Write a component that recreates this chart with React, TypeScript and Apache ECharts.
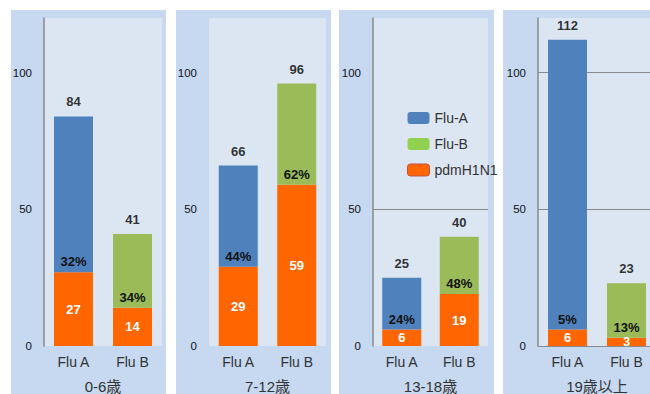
import React, { useEffect, useRef } from "react";
import * as echarts from "echarts";

const ageGroups = ["0-6歳", "7-12歳", "13-18歳", "19歳以上"];
const categories = ["Flu A", "Flu B"];
const fluATotal = [84, 66, 25, 112];
const fluBTotal = [41, 96, 40, 23];
const fluAPdm = [27, 29, 6, 6];
const fluBPdm = [14, 59, 19, 3];
const fluAPct = ["32%", "44%", "24%", "5%"];
const fluBPct = ["34%", "62%", "48%", "13%"];
const yMax = 120;
const yInterval = 50;

const FONT = "'Liberation Sans', Arial, 'Noto Sans CJK JP', sans-serif";
const gridLefts = [44, 209, 373, 538];
const gridWidths = [118, 117, 115, 118];
const panelLefts = [11, 176, 339, 503];
const panelWidth = 155;
const showAxisLine = [true, false, true, true];
const splitColors = [
  ["transparent"],
  ["transparent"],
  ["transparent", "#8a8a8a", "transparent", "transparent"],
  ["#8a8a8a", "#8a8a8a", "#8a8a8a", "transparent"],
];

export default function App() {
  const ref = useRef<HTMLDivElement>(null);
  useEffect(() => {
    document.body.style.margin = "0";
    const chart = echarts.init(ref.current!, null, { renderer: "svg" });
    const grid: any[] = [];
    const xAxis: any[] = [];
    const yAxis: any[] = [];
    const series: any[] = [];
    ageGroups.forEach((g, i) => {
      grid.push({
        left: gridLefts[i],
        width: gridWidths[i],
        top: 18,
        height: 328,
        show: true,
        backgroundColor: "#dce6f2",
        borderWidth: 0,
        outerBoundsMode: "none",
        containLabel: false,
      });
      xAxis.push({
        type: "category",
        gridIndex: i,
        data: categories,
        axisLine: { show: false },
        axisTick: { show: false },
        axisLabel: { color: "#333", fontSize: 14, fontFamily: FONT, margin: 9 },
        name: g,
        nameLocation: "middle",
        nameGap: 33,
        nameTextStyle: { color: "#333", fontSize: 15, fontFamily: FONT },
      });
      yAxis.push({
        type: "value",
        gridIndex: i,
        min: 0,
        max: yMax,
        interval: yInterval,
        axisLine: { show: showAxisLine[i], lineStyle: { color: "#8a8a8a", width: 1.5 } },
        axisTick: { show: false },
        axisLabel: {
          color: "#111",
          fontSize: 11.5,
          fontFamily: FONT,
          margin: 12,
          showMaxLabel: false,
        },
        splitLine: { show: true, lineStyle: { color: splitColors[i], width: 1 } },
      });
      series.push({
        name: "pdmH1N1",
        type: "bar",
        stack: "s" + i,
        xAxisIndex: i,
        yAxisIndex: i,
        barWidth: 39,
        data: [fluAPdm[i], fluBPdm[i]],
        itemStyle: { color: "#ff6600" },
        label: {
          show: true,
          position: "inside",
          color: "#fff",
          fontWeight: "bold",
          fontSize: 13,
          fontFamily: FONT,
        },
      });
      series.push({
        name: "Flu-A",
        type: "bar",
        stack: "s" + i,
        xAxisIndex: i,
        yAxisIndex: i,
        barWidth: 39,
        data: [fluATotal[i] - fluAPdm[i], "-"],
        itemStyle: { color: "#4f81bd" },
        label: {
          show: true,
          position: "insideBottom",
          distance: 4,
          formatter: () => fluAPct[i],
          color: "#111",
          fontWeight: "bold",
          fontSize: 13,
          fontFamily: FONT,
        },
      });
      series.push({
        name: "Flu-B",
        type: "bar",
        stack: "s" + i,
        xAxisIndex: i,
        yAxisIndex: i,
        barWidth: 39,
        data: ["-", fluBTotal[i] - fluBPdm[i]],
        itemStyle: { color: "#9bbb59" },
        label: {
          show: true,
          position: "insideBottom",
          distance: 4,
          formatter: () => fluBPct[i],
          color: "#111",
          fontWeight: "bold",
          fontSize: 13,
          fontFamily: FONT,
        },
      });
      series.push({
        name: "total",
        type: "scatter",
        xAxisIndex: i,
        yAxisIndex: i,
        symbolSize: 0,
        data: [
          [0, fluATotal[i]],
          [1, fluBTotal[i]],
        ],
        label: {
          show: true,
          position: "top",
          distance: 8,
          formatter: (p: any) => String(p.value[1]),
          color: "#000",
          fontWeight: "bold",
          fontSize: 13,
          fontFamily: FONT,
        },
      });
    });

    chart.setOption({
      animation: false,
      backgroundColor: "#fff",
      graphic: panelLefts.map((x) => ({
        type: "rect",
        z: -10,
        shape: { x, y: 10, width: panelWidth, height: 400 },
        style: { fill: "#c6d9f1" },
      })),
      legend: {
        orient: "vertical",
        left: 402,
        top: 106,
        itemWidth: 22,
        itemHeight: 12,
        itemGap: 12,
        textStyle: { color: "#333", fontSize: 14, fontFamily: FONT, lineHeight: 12 },
        data: [
          { name: "Flu-A", itemStyle: { color: "#4f81bd" } },
          { name: "Flu-B", itemStyle: { color: "#92d050" } },
          { name: "pdmH1N1", itemStyle: { color: "#ff6600", borderColor: "#c0504d", borderWidth: 1 } },
        ],
      },
      grid,
      xAxis,
      yAxis,
      series,
    });
    return () => chart.dispose();
  }, []);
  return <div ref={ref} style={{ width: 650, height: 394 }} />;
}
